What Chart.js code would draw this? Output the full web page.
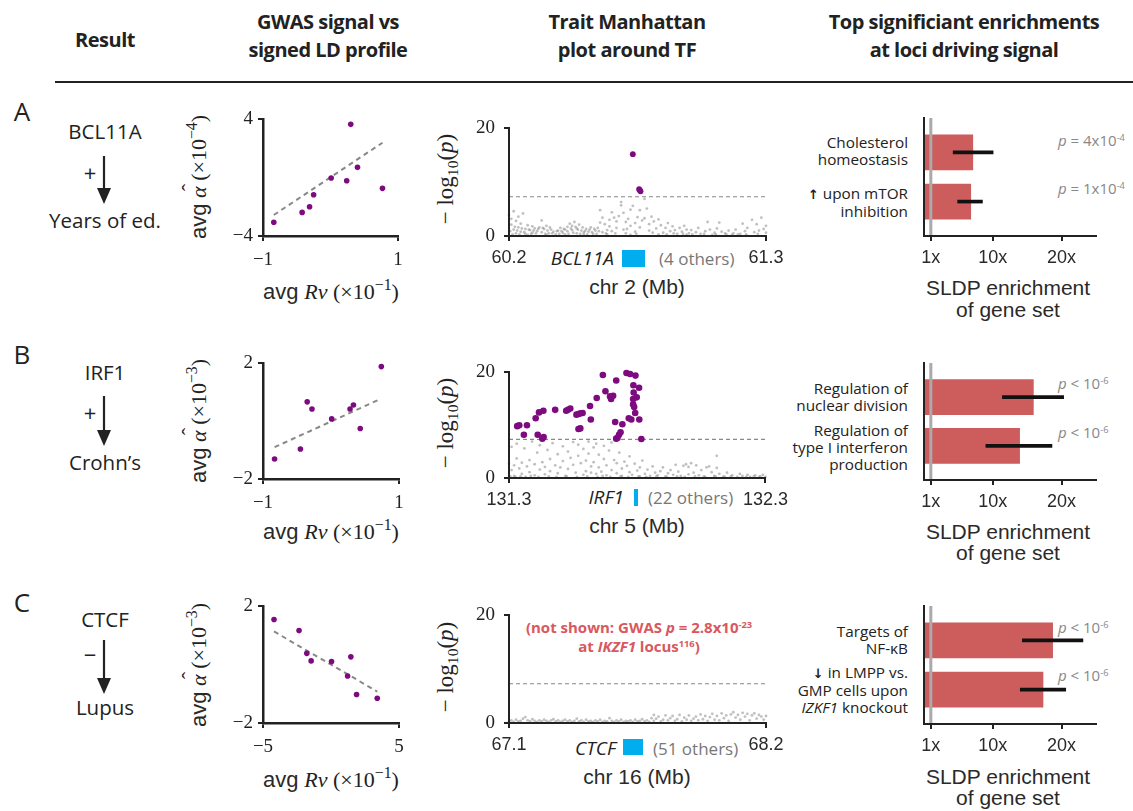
<!DOCTYPE html>
<html><head><meta charset="utf-8">
<script src="https://cdn.jsdelivr.net/npm/chart.js@4.4.0/dist/chart.umd.min.js"></script>
<style>
body{margin:0;background:#fff;}
#root{position:relative;width:1133px;height:811px;overflow:hidden;background:#fff;font-family:'Open Sans',sans-serif;color:#222;}
.t{position:absolute;white-space:nowrap;transform:translate(-50%,-50%);line-height:1.15;}
.h{font-weight:700;font-size:20px;text-align:center;line-height:28px;letter-spacing:-0.5px;}
.r{position:absolute;white-space:nowrap;transform:translate(-100%,-50%);text-align:right;font-size:15.3px;line-height:17px;}
.l{position:absolute;white-space:nowrap;transform:translate(0,-50%);}
.sans{font-family:'Liberation Sans',Arial,sans-serif;color:#2a2a2a;}
.ser{font-family:'Liberation Serif',serif;}
.rot{transform:translate(-50%,-50%) rotate(-90deg);}
.pl{color:#888;font-size:15px;}
sup{font-size:0.62em;vertical-align:0;position:relative;top:-0.55em;line-height:0;}
.msup{font-size:0.72em;top:-0.6em;}
sub{font-size:0.68em;vertical-align:0;position:relative;top:0.35em;line-height:0;}
.hat{position:relative;display:inline-block;}
.hat::after{content:'ˆ';position:absolute;left:0.3em;top:-0.42em;font-style:normal;}
.arw{font-family:'DejaVu Sans',sans-serif;font-weight:700;color:#222;font-size:13px;}
canvas{position:absolute;}
.gene{position:absolute;background:#00aeef;}
.lc{font-size:20.5px;}
</style></head>
<body><div id="root">
<!-- headers -->
<div class="t h" style="left:105px;top:40px;">Result</div>
<div class="t h" style="left:328px;top:36px;">GWAS signal vs<br>signed LD profile</div>
<div class="t h" style="left:627px;top:36px;">Trait Manhattan<br>plot around TF</div>
<div class="t h" style="left:964px;top:36px;">Top significiant enrichments<br>at loci driving signal</div>
<div style="position:absolute;left:55px;top:81px;width:1078px;height:2px;background:#222;"></div>

<!-- panel letters & left column -->
<div class="t" style="left:22px;top:112px;font-size:26px;">A</div>
<div class="t" style="left:22px;top:355px;font-size:26px;">B</div>
<div class="t" style="left:22px;top:603px;font-size:26px;">C</div>

<div class="t lc" style="left:105px;top:132px;">BCL11A</div>
<div class="t" style="left:90px;top:173px;font-size:22px;">+</div>
<div class="t lc" style="left:105px;top:221px;">Years of ed.</div>

<div class="t lc" style="left:105px;top:373px;">IRF1</div>
<div class="t" style="left:90px;top:413px;font-size:22px;">+</div>
<div class="t lc" style="left:105px;top:463px;">Crohn’s</div>

<div class="t lc" style="left:105px;top:620px;">CTCF</div>
<div class="t" style="left:90px;top:655px;font-size:22px;">−</div>
<div class="t lc" style="left:105px;top:708px;">Lupus</div>

<svg style="position:absolute;left:0;top:0" width="200" height="811">
  <g stroke="#222" stroke-width="2.2" fill="#222">
    <line x1="104" y1="156" x2="104" y2="192"/><polygon stroke="none" points="97,188 111,188 104,204"/>
    <line x1="104" y1="396" x2="104" y2="434"/><polygon stroke="none" points="97,430 111,430 104,446"/>
    <line x1="104" y1="640" x2="104" y2="682"/><polygon stroke="none" points="97,678 111,678 104,694"/>
  </g>
</svg>

<!-- scatter axis titles -->
<div class="t rot" style="left:198px;top:177px;font-size:22px;"><span class="sans">avg</span> <span class="ser"><i class="hat">α</i> (×10<sup class="msup">−4</sup>)</span></div>
<div class="t rot" style="left:198px;top:421px;font-size:22px;"><span class="sans">avg</span> <span class="ser"><i class="hat">α</i> (×10<sup class="msup">−3</sup>)</span></div>
<div class="t rot" style="left:198px;top:665px;font-size:22px;"><span class="sans">avg</span> <span class="ser"><i class="hat">α</i> (×10<sup class="msup">−3</sup>)</span></div>
<div class="t" style="left:331px;top:291px;font-size:22px;"><span class="sans">avg</span> <span class="ser"><i>Rv</i> (×10<sup class="msup">−1</sup>)</span></div>
<div class="t" style="left:331px;top:531px;font-size:22px;"><span class="sans">avg</span> <span class="ser"><i>Rv</i> (×10<sup class="msup">−1</sup>)</span></div>
<div class="t" style="left:331px;top:779px;font-size:22px;"><span class="sans">avg</span> <span class="ser"><i>Rv</i> (×10<sup class="msup">−1</sup>)</span></div>

<!-- manhattan titles -->
<div class="t rot ser" style="left:446px;top:179px;font-size:23px;">− log<sub>10</sub>(<i>p</i>)</div>
<div class="t rot ser" style="left:446px;top:423px;font-size:23px;">− log<sub>10</sub>(<i>p</i>)</div>
<div class="t rot ser" style="left:446px;top:667px;font-size:23px;">− log<sub>10</sub>(<i>p</i>)</div>

<div class="r" style="left:614px;top:258px;font-size:19px;line-height:20px;"><i>BCL11A</i></div>
<div class="gene" style="left:622px;top:250px;width:23px;height:17px;"></div>
<div class="l" style="left:659px;top:258px;font-size:17px;color:#777;">(4 others)</div>
<div class="t sans" style="left:637px;top:287px;font-size:21px;">chr 2 (Mb)</div>

<div class="r" style="left:624px;top:497px;font-size:19px;line-height:20px;"><i>IRF1</i></div>
<div class="gene" style="left:634px;top:489px;width:4px;height:17px;"></div>
<div class="l" style="left:648px;top:497px;font-size:17px;color:#777;">(22 others)</div>
<div class="t sans" style="left:637px;top:526px;font-size:21px;">chr 5 (Mb)</div>

<div class="r" style="left:616px;top:748px;font-size:19px;line-height:20px;"><i>CTCF</i></div>
<div class="gene" style="left:623px;top:739px;width:20px;height:16px;"></div>
<div class="l" style="left:653px;top:748px;font-size:17px;color:#777;">(51 others)</div>
<div class="t sans" style="left:637px;top:777px;font-size:21px;">chr 16 (Mb)</div>

<div class="t" style="left:639px;top:637px;font-size:15px;font-weight:700;color:#d9585e;text-align:center;line-height:19px;">(not shown: GWAS <i>p</i> = 2.8x10<sup>-23</sup><br>at <i>IKZF1</i> locus<sup>116</sup>)</div>

<!-- bar category labels -->
<div class="r" style="left:908px;top:151px;">Cholesterol<br>homeostasis</div>
<div class="r" style="left:908px;top:202px;"><span class="arw">↑</span> upon mTOR<br>inhibition</div>
<div class="r" style="left:908px;top:397px;">Regulation of<br>nuclear division</div>
<div class="r" style="left:908px;top:447px;">Regulation of<br>type I interferon<br>production</div>
<div class="r" style="left:908px;top:640px;">Targets of<br>NF-κB</div>
<div class="r" style="left:908px;top:690px;"><span class="arw">↓</span> in LMPP vs.<br>GMP cells upon<br><i>IZKF1</i> knockout</div>

<div class="l pl" style="left:1058px;top:140px;"><i>p</i> = 4x10<sup>-4</sup></div>
<div class="l pl" style="left:1058px;top:188px;"><i>p</i> = 1x10<sup>-4</sup></div>
<div class="l pl" style="left:1058px;top:383px;"><i>p</i> &lt; 10<sup>-6</sup></div>
<div class="l pl" style="left:1058px;top:432px;"><i>p</i> &lt; 10<sup>-6</sup></div>
<div class="l pl" style="left:1058px;top:627px;"><i>p</i> &lt; 10<sup>-6</sup></div>
<div class="l pl" style="left:1058px;top:675px;"><i>p</i> &lt; 10<sup>-6</sup></div>

<div class="t sans" style="left:1008px;top:288px;font-size:21px;">SLDP enrichment</div>
<div class="t sans" style="left:1008px;top:310px;font-size:21px;">of gene set</div>
<div class="t sans" style="left:1008px;top:532px;font-size:21px;">SLDP enrichment</div>
<div class="t sans" style="left:1008px;top:553px;font-size:21px;">of gene set</div>
<div class="t sans" style="left:1008px;top:777px;font-size:21px;">SLDP enrichment</div>
<div class="t sans" style="left:1008px;top:798px;font-size:21px;">of gene set</div>
</div>

<script>
// ---------------- DATA ----------------
// Column 1: GWAS signal vs signed LD profile (one point per bin)
const rvA = [-0.84, -0.42, -0.31, -0.25, 0.01, 0.24, 0.30, 0.40, 0.77];
const alphaA = [-3.06, -2.38, -1.99, -1.17, -0.02, -0.21, 3.66, 0.71, -0.73];
const fitA_x = [-0.84, 0.77], fitA_y = [-2.56, 2.40];

const rvB = [-0.83, -0.45, -0.35, -0.28, 0.01, 0.28, 0.33, 0.43, 0.74];
const alphaB = [-1.31, -0.96, 0.67, 0.42, 0.08, 0.42, 0.56, -0.25, 1.89];
const fitB_x = [-0.83, 0.71], fitB_y = [-0.90, 0.75];

const rvC = [-4.19, -2.35, -1.78, -1.46, 0.04, 1.46, 1.22, 1.88, 3.40];
const alphaC = [1.55, 1.17, 0.39, 0.13, 0.11, 0.27, -0.39, -1.02, -1.15];
const fitC_x = [-4.19, 3.40], fitC_y = [1.14, -0.92];

const scatterXTicksA = [-1, 1], scatterYTicksA = [-4, 4];
const scatterXTicksB = [-1, 1], scatterYTicksB = [-2, 2];
const scatterXTicksC = [-5, 5], scatterYTicksC = [-2, 2];

// Column 2: Manhattan plots
const gwThreshold = 7.3;
const manXTicksA = [60.2, 61.3], manXTicksB = [131.3, 132.3], manXTicksC = [67.1, 68.2];
const manYTicks = [0, 20];

const sigA = [[60.73,15.2],[60.757,8.7],[60.760,8.5],[60.763,8.3]];
const grayA = [[60.20,3.9],[60.21,3.2],[60.21,2.1],[60.22,4.6],[60.22,1.2],[60.23,0.5],[60.23,2.8],[60.24,3.6],[60.24,1.6],[60.25,0.8],[60.25,2.3],[60.26,4.2],[60.27,1.3],[60.27,0.4],[60.28,2.0],[60.29,1.1],[60.30,0.6],[60.30,1.8],[60.31,1.4],[60.32,0.9],[60.33,1.6],[60.34,2.9],[60.34,0.7],[60.35,1.3],[60.36,1.9],[60.37,0.5],[60.38,1.2],[60.39,0.8],[60.40,0.3],[60.41,1.0],[60.42,1.5],[60.43,0.6],[60.44,1.2],[60.45,1.7],[60.45,0.9],[60.46,2.3],[60.47,1.9],[60.47,1.1],[60.48,2.6],[60.49,1.4],[60.49,0.5],[60.50,2.1],[60.51,1.0],[60.52,0.6],[60.53,1.3],[60.54,0.8],[60.55,1.6],[60.56,0.4],[60.57,1.0],[60.58,1.5],[60.59,2.5],[60.59,4.8],[60.60,3.4],[60.60,0.7],[60.61,2.2],[60.62,1.1],[60.63,3.0],[60.63,1.8],[60.64,4.4],[60.64,0.9],[60.65,3.4],[60.66,1.5],[60.66,2.7],[60.67,3.7],[60.68,6.3],[60.68,5.7],[60.69,1.2],[60.69,4.3],[60.70,2.6],[60.70,0.5],[60.71,3.2],[60.72,1.9],[60.72,4.9],[60.73,5.6],[60.74,2.4],[60.74,0.8],[60.75,3.5],[60.76,4.8],[60.76,1.6],[60.77,2.9],[60.78,6.9],[60.78,3.3],[60.79,5.1],[60.80,2.2],[60.80,1.0],[60.81,3.6],[60.82,2.7],[60.83,1.4],[60.84,3.1],[60.85,2.0],[60.86,0.6],[60.87,1.5],[60.88,2.4],[60.89,0.9],[60.90,1.8],[60.91,1.1],[60.92,0.4],[60.93,1.5],[60.94,0.8],[60.95,1.9],[60.96,1.2],[60.97,0.5],[60.98,1.1],[61.00,0.7],[61.01,1.5],[61.02,0.4],[61.04,0.9],[61.05,2.6],[61.06,1.2],[61.08,0.6],[61.09,1.4],[61.10,2.5],[61.11,0.8],[61.13,0.3],[61.14,1.0],[61.16,0.5],[61.17,1.2],[61.19,0.4],[61.20,2.3],[61.21,0.9],[61.22,1.5],[61.24,3.0],[61.25,0.7],[61.26,2.2],[61.27,1.0],[61.28,3.4],[61.29,1.3],[61.30,0.6],[61.30,1.9],[60.28,0.2],[60.36,0.2],[60.44,0.3],[60.52,0.2],[60.62,0.3],[60.72,0.2],[60.84,0.3],[60.96,0.2],[61.07,0.2],[61.18,0.3],
  [60.205,0.9],[60.215,0.3],[60.225,1.7],[60.235,1.0],[60.245,0.3],[60.255,1.4],[60.265,0.7],[60.285,1.2],[60.295,0.4],[60.305,1.0],[60.315,0.5],[60.325,1.3],[60.345,1.5],[60.355,0.4],[60.365,1.0],[60.375,1.6],[60.385,0.5],[60.405,0.9],[60.415,0.4],[60.425,0.9],[60.435,1.3],[60.455,0.4],[60.465,1.4],[60.475,0.6],[60.485,1.7],[60.495,1.2],[60.505,0.4],[60.515,1.6],[60.525,0.9],[60.535,0.3],[60.545,1.2],[60.555,0.7],[60.565,1.3],[60.575,0.4],[60.585,0.9],[60.615,0.5],[60.655,0.5],[60.705,1.3],[60.745,0.4],[60.815,0.6],[60.875,0.3],[60.905,0.5],[60.945,0.4],[60.985,0.3],[61.035,0.4],[61.085,0.3],[61.125,0.5],[61.155,0.2],[61.215,0.3],[61.265,0.4]];

const sigB = [[131.332,9.82],[131.340,10.0],[131.358,8.18],[131.370,10.0],[131.404,11.33],[131.412,8.18],[131.417,12.42],[131.430,7.45],[131.435,7.76],[131.434,12.73],[131.480,12.91],[131.523,12.73],[131.530,12.91],[131.539,13.15],[131.563,12.0],[131.571,12.12],[131.579,12.24],[131.587,12.30],[131.571,9.27],[131.578,9.39],[131.619,11.09],[131.616,13.64],[131.642,15.15],[131.666,19.52],[131.676,16.42],[131.694,15.45],[131.698,14.97],[131.706,15.58],[131.714,10.61],[131.718,18.48],[131.718,7.45],[131.723,7.58],[131.729,8.18],[131.735,8.67],[131.742,10.18],[131.758,19.88],[131.772,19.70],[131.777,11.09],[131.784,13.94],[131.784,14.97],[131.788,13.45],[131.793,19.39],[131.785,17.58],[131.792,12.30],[131.798,15.27],[131.807,17.09],[131.808,11.09],[131.816,7.39],[131.767,11.33],[131.786,16.18]];
const grayB = [[131.30,2.7],[131.31,1.5],[131.31,5.9],[131.32,0.4],[131.32,2.4],[131.33,3.7],[131.33,6.5],[131.34,1.8],[131.35,2.9],[131.35,0.8],[131.36,5.6],[131.37,2.2],[131.38,1.1],[131.38,3.4],[131.39,6.9],[131.40,2.6],[131.40,0.5],[131.41,4.8],[131.42,1.6],[131.42,6.2],[131.43,3.0],[131.44,2.1],[131.44,0.7],[131.45,5.3],[131.46,1.3],[131.46,3.6],[131.47,6.6],[131.48,2.4],[131.49,0.9],[131.49,4.5],[131.50,2.0],[131.51,6.0],[131.51,3.2],[131.52,0.4],[131.53,5.0],[131.53,1.7],[131.54,3.8],[131.55,6.8],[131.55,2.5],[131.56,1.0],[131.57,4.2],[131.57,6.3],[131.58,2.8],[131.59,0.6],[131.59,5.5],[131.60,3.3],[131.60,1.3],[131.61,6.9],[131.61,4.6],[131.62,2.2],[131.62,1.0],[131.63,5.8],[131.63,3.0],[131.64,0.8],[131.64,6.5],[131.65,2.0],[131.65,4.4],[131.66,1.2],[131.67,6.1],[131.67,3.6],[131.68,0.5],[131.68,2.4],[131.69,5.2],[131.70,1.5],[131.70,6.7],[131.71,3.4],[131.72,0.9],[131.72,2.8],[131.73,4.8],[131.74,1.8],[131.74,0.4],[131.75,3.1],[131.76,2.3],[131.77,1.1],[131.77,4.1],[131.78,0.6],[131.79,2.7],[131.80,1.4],[131.81,0.3],[131.81,2.0],[131.82,3.3],[131.83,0.8],[131.84,1.6],[131.85,0.4],[131.86,2.2],[131.87,1.0],[131.88,0.5],[131.89,1.3],[131.90,2.0],[131.91,0.3],[131.92,0.9],[131.93,1.5],[131.94,0.6],[131.95,2.5],[131.96,1.2],[131.97,0.4],[131.98,2.3],[131.99,2.6],[132.00,2.1],[132.00,0.7],[132.01,2.8],[132.02,1.0],[132.03,2.4],[132.04,0.5],[132.05,1.5],[132.06,0.3],[132.07,2.0],[132.08,2.2],[132.09,1.1],[132.10,0.4],[132.11,4.2],[132.11,1.9],[132.12,0.8],[132.14,0.3],[132.15,1.0],[132.17,0.5],[132.19,0.2],[132.20,0.8],[132.21,0.4],[132.23,0.6],[132.24,0.2],[132.26,0.5],[132.28,0.3],[132.29,0.6],[132.30,0.2],
  [131.305,0.3],[131.325,0.2],[131.345,0.3],[131.365,0.2],[131.385,0.4],[131.415,0.2],[131.455,0.3],[131.485,0.2],[131.525,0.3],[131.565,0.2],[131.605,0.3],[131.645,0.2],[131.665,0.4],[131.695,0.2],[131.735,0.3],[131.765,0.2],[131.805,0.3],[131.835,0.2],[131.875,0.3],[131.915,0.2],[131.955,0.3],[131.985,0.2],[132.025,0.3],[132.065,0.2],[132.105,0.3],[132.135,0.2],[132.165,0.3],[132.225,0.2],[132.255,0.3],[132.275,0.2]];

const sigC = [];
const grayC = [[67.10,0.3],[67.11,0.5],[67.12,0.2],[67.13,0.6],[67.14,0.3],[67.15,0.4],[67.16,0.8],[67.17,1.1],[67.18,0.5],[67.19,0.3],[67.20,0.7],[67.21,0.4],[67.22,0.2],[67.23,0.5],[67.24,0.3],[67.25,0.6],[67.26,0.4],[67.27,0.2],[67.28,0.5],[67.29,0.7],[67.30,0.3],[67.31,0.5],[67.32,0.2],[67.33,0.4],[67.34,0.6],[67.35,0.3],[67.36,0.5],[67.37,0.2],[67.38,0.4],[67.39,0.8],[67.40,0.3],[67.41,0.5],[67.42,0.2],[67.43,0.6],[67.44,0.3],[67.45,0.4],[67.46,0.2],[67.47,0.5],[67.48,0.3],[67.49,0.6],[67.50,0.2],[67.51,0.4],[67.52,0.3],[67.53,0.9],[67.54,0.4],[67.55,0.2],[67.56,0.5],[67.57,0.3],[67.58,0.6],[67.59,0.2],[67.60,0.4],[67.61,0.3],[67.62,0.5],[67.63,0.2],[67.64,0.6],[67.65,0.3],[67.66,0.4],[67.67,0.7],[67.68,0.3],[67.69,0.5],[67.70,0.2],[67.71,0.9],[67.72,1.5],[67.72,0.4],[67.73,0.8],[67.74,1.2],[67.75,0.3],[67.76,0.6],[67.77,1.4],[67.78,0.5],[67.79,0.9],[67.80,1.3],[67.81,0.4],[67.82,0.7],[67.83,1.5],[67.84,0.3],[67.85,1.0],[67.86,0.6],[67.87,1.4],[67.88,0.4],[67.89,0.8],[67.90,1.2],[67.91,0.5],[67.92,1.6],[67.93,0.7],[67.94,1.3],[67.95,0.4],[67.96,1.1],[67.97,1.7],[67.98,0.6],[67.99,1.3],[68.00,0.5],[68.01,1.8],[68.02,0.9],[68.03,1.4],[68.04,0.4],[68.05,1.6],[68.06,2.0],[68.07,1.0],[68.08,1.5],[68.09,0.6],[68.10,1.9],[68.11,1.2],[68.12,1.7],[68.13,0.5],[68.14,1.4],[68.15,1.8],[68.16,0.8],[68.17,1.5],[68.18,1.2],[68.19,0.6],[68.20,1.3]];

// Column 3: SLDP enrichment of gene sets
const enrichA = [7.1, 6.8], errLoA = [4.25, 4.9], errHiA = [10.05, 8.5];
const enrichB = [15.9, 13.9], errLoB = [11.4, 9.0], errHiB = [20.3, 18.6];
const enrichC = [18.7, 17.3], errLoC = [14.3, 14.0], errHiC = [23.1, 20.6];
const enrichTicks = [1, 10, 20];
const nullEnrichment = 1;

// ---------------- DRAWING ----------------
const root = document.getElementById('root');
const PAD = {left:6, top:16, right:28, bottom:6};
const PURPLE = '#7d0a7f', DARK = '#222';

function place(rect, yW, xH) {
  const c = document.createElement('canvas');
  const w = rect.r - rect.l + yW + PAD.left + PAD.right;
  const h = rect.b - rect.t + xH + PAD.top + PAD.bottom;
  c.width = w; c.height = h;
  c.style.left = (rect.l - yW - PAD.left) + 'px';
  c.style.top = (rect.t - PAD.top) + 'px';
  c.style.width = w + 'px'; c.style.height = h + 'px';
  root.appendChild(c);
  return c;
}
const minus = v => String(v).replace('-', '−');
function axis(o) {
  return {
    type: 'linear', min: o.min, max: o.max, reverse: !!o.reverse,
    afterBuildTicks: s => { s.ticks = o.ticks.map(v => ({value: v})); },
    ticks: {display: o.showTicks !== false, callback: v => o.fmt(v), font: o.font, color: o.color || DARK,
            padding: o.pad, maxRotation: 0, autoSkip: false},
    grid: {display: o.showTicks !== false, drawOnChartArea: false, drawTicks: true, tickLength: 5,
           color: DARK, lineWidth: 2},
    border: {display: true, color: DARK, width: o.bw || 2, z: 1},
    afterFit: s => { if (o.isX) s.height = o.fit; else s.width = o.fit; }
  };
}
const common = {
  responsive: false, animation: false, devicePixelRatio: 1, events: [],
  layout: {padding: PAD},
  plugins: {legend: {display: false}, tooltip: {enabled: false}}
};
const serif = size => ({family: "'Liberation Serif', serif", size});
const sans = size => ({family: "'Liberation Sans', Arial, sans-serif", size});

function scatterPanel(rect, xs, ys, fx, fy, xt, yt) {
  const c = place(rect, 30, 30);
  new Chart(c, {
    type: 'scatter',
    data: {datasets: [
      {data: xs.map((x, i) => ({x, y: ys[i]})), backgroundColor: PURPLE, borderWidth: 0,
       pointRadius: 2.8, order: 0, clip: false},
      {data: fx.map((x, i) => ({x, y: fy[i]})), showLine: true, borderColor: '#888',
       borderDash: [5, 4], borderWidth: 2, pointRadius: 0, order: 1, clip: false}
    ]},
    options: Object.assign({}, common, {scales: {
      x: axis({min: xt[0], max: xt[1], ticks: xt, fmt: minus, font: serif(19), pad: 8, isX: true, fit: 30, bw: 2.5}),
      y: axis({min: yt[0], max: yt[1], ticks: yt, fmt: minus, font: serif(19), pad: 5, isX: false, fit: 30, bw: 2.5})
    }})
  });
}

function manhattanPanel(rect, sig, gray, xt, sigR) {
  const c = place(rect, 40, 30);
  new Chart(c, {
    type: 'scatter',
    data: {datasets: [
      {data: sig.map(p => ({x: p[0], y: p[1]})), backgroundColor: PURPLE, borderWidth: 0,
       pointRadius: sigR, order: 0, clip: false},
      {data: gray.map(p => ({x: p[0], y: p[1]})), backgroundColor: 'rgba(140,140,140,0.55)', borderWidth: 0,
       pointRadius: 1.4, order: 2, clip: false},
      {data: [{x: xt[0], y: gwThreshold}, {x: xt[1], y: gwThreshold}], showLine: true,
       borderColor: '#888', borderDash: [4, 3], borderWidth: 1.2, pointRadius: 0, order: 1}
    ]},
    options: Object.assign({}, common, {scales: {
      x: axis({min: xt[0], max: xt[1], ticks: xt, fmt: v => v.toFixed(1), font: sans(18), pad: 6, isX: true, fit: 30, color: '#2a2a2a'}),
      y: axis({min: manYTicks[0], max: manYTicks[1], ticks: manYTicks, fmt: v => String(v), font: serif(19), pad: 9, isX: false, fit: 40})
    }})
  });
}

function barPanel(rect, vals, lo, hi) {
  const c = place(rect, 2, 30);
  new Chart(c, {
    type: 'bar',
    data: {datasets: [
      {type: 'line', data: [{x: nullEnrichment, y: -0.7}, {x: nullEnrichment, y: 1.7}],
       borderColor: '#aaa', borderWidth: 3, pointRadius: 0, order: 0, indexAxis: 'x'},
      {data: lo.map((l, i) => ({x: [l, hi[i]], y: i})), backgroundColor: '#111',
       barThickness: 3, grouped: false, order: 1},
      {data: vals.map((v, i) => ({x: v, y: i})), backgroundColor: '#cd5c5c',
       barThickness: 35, grouped: false, order: 2}
    ]},
    options: Object.assign({}, common, {indexAxis: 'y', scales: {
      x: axis({min: 0, max: 25, ticks: enrichTicks, fmt: v => v + 'x', font: sans(18), pad: 6, isX: true, fit: 30, color: '#2a2a2a'}),
      y: axis({min: -0.7, max: 1.7, reverse: true, ticks: [], fmt: v => '', showTicks: false, isX: false, fit: 2})
    }})
  });
}

scatterPanel({l:263, t:119, r:398, b:236}, rvA, alphaA, fitA_x, fitA_y, scatterXTicksA, scatterYTicksA);
scatterPanel({l:263, t:363, r:399, b:479}, rvB, alphaB, fitB_x, fitB_y, scatterXTicksB, scatterYTicksB);
scatterPanel({l:263, t:606, r:399, b:723}, rvC, alphaC, fitC_x, fitC_y, scatterXTicksC, scatterYTicksC);

manhattanPanel({l:509, t:124, r:766, b:236}, sigA, grayA, manXTicksA, 2.9);
manhattanPanel({l:509, t:368, r:766, b:478}, sigB, grayB, manXTicksB, 3.3);
manhattanPanel({l:509, t:611, r:766, b:723}, sigC, grayC, manXTicksC, 3);

barPanel({l:923, t:118, r:1096, b:236}, enrichA, errLoA, errHiA);
barPanel({l:923, t:363, r:1096, b:480}, enrichB, errLoB, errHiB);
barPanel({l:923, t:606, r:1096, b:724}, enrichC, errLoC, errHiC);
</script>
</body></html>
